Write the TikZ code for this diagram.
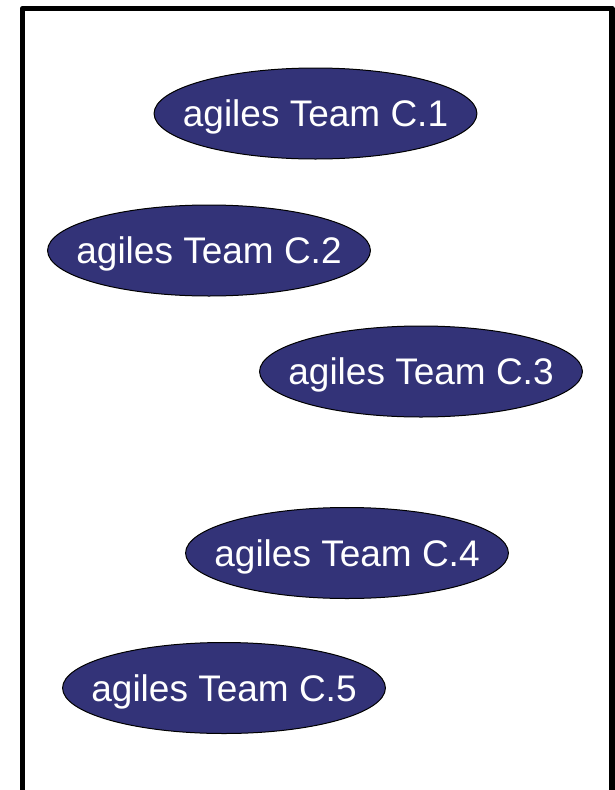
\documentclass[tikz,border=0pt]{standalone}
\usepackage{fontspec}
\setmainfont{Liberation Sans}
\usetikzlibrary{shapes.geometric}
\definecolor{teamblue}{RGB}{51,51,120}
\begin{document}
\begin{tikzpicture}[x=1pt,y=-1pt,
  team/.style={ellipse, draw=black, line width=1pt, fill=teamblue, text=white,
    minimum height=91pt, inner xsep=-18.5pt, inner ysep=0pt, text depth=0pt,
    font=\fontsize{37}{40}\selectfont}]
\useasboundingbox (0,0) rectangle (615,790);
\begin{scope}
\clip (0,0) rectangle (615,790);
\draw[line width=5.5pt, line join=round] (22.5,820) -- (22.5,8.5) -- (612,8.5) -- (612,820);
\end{scope}
\node[team] (c1) at (315.5,113.5) {agiles Team C.1};
\node[team] (c2) at (209,250.5) {agiles Team C.2};
\node[team] (c3) at (421,371.5) {agiles Team C.3};
\node[team] (c4) at (347,553) {agiles Team C.4};
\node[team] (c5) at (224,688) {agiles Team C.5};
\end{tikzpicture}
\end{document}
